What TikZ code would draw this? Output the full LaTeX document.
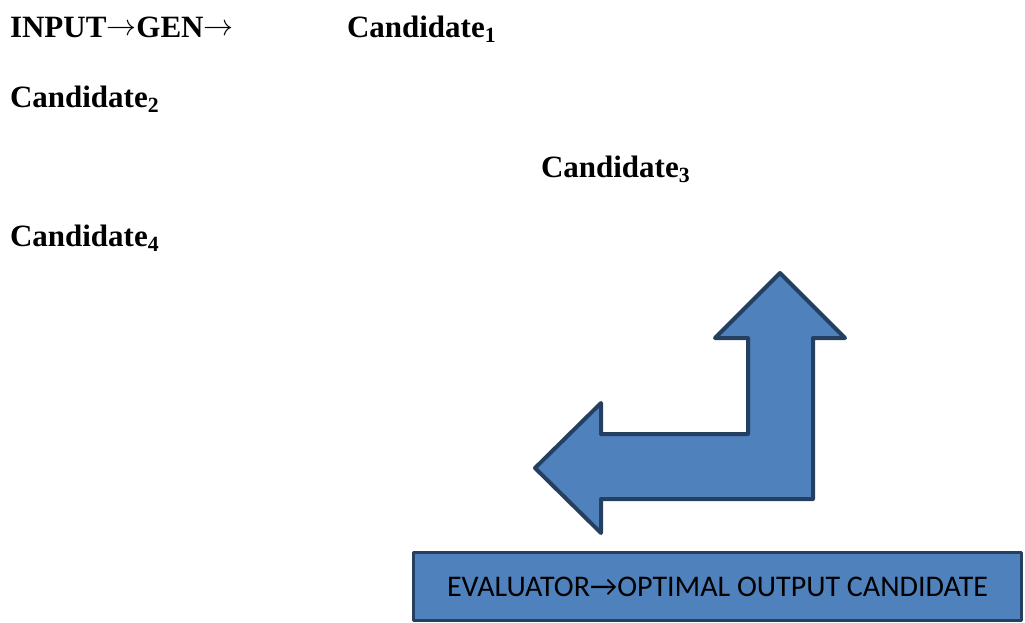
\documentclass[tikz,border=0pt]{standalone}
\usepackage{fontspec}
\setmainfont{Liberation Serif}
\newfontfamily\boxfont{Carlito}
\newcommand*{\candfont}{\fontsize{31}{31}\bfseries\selectfont}
\newcommand*{\rarr}{\raisebox{2pt}{\resizebox{30pt}{!}{$\rightarrow$}}}
\definecolor{B}{HTML}{4F81BD}
\definecolor{D}{HTML}{243F60}
\usetikzlibrary{positioning}
\tikzstyle{base}=[x=1pt, y=-1pt, inner sep=0pt, outer sep=0pt]
\tikzstyle{cand}=[anchor=base west, font=\candfont]
\tikzstyle{bluefill}=[draw=D, fill=B, line width=4pt, line join=round]

\begin{document}
\begin{tikzpicture}[base]
    \path [use as bounding box] (0,0) rectangle (1025,622);
        \node [cand] (gen) at (10,37) {INPUT\rarr GEN\rarr};
        \node [cand] (c1) at (347,37) {Candidate\textsubscript{1}};
        \node [cand] (c2) at (10,107) {Candidate\textsubscript{2}};
        \node [cand] (c3) at (541,177) {Candidate\textsubscript{3}};
        \node [cand] (c4) at (10,246) {Candidate\textsubscript{4}};
        \draw [bluefill] (780,273) -- (845,338) -- (813,338) -- (813,499) -- (601,499) -- (601,533)
            -- (535,468) -- (601,403) -- (601,434) -- (748,434) -- (748,338) -- (715,338) -- cycle;
        \node [bluefill, line width=3pt, minimum width=608pt, minimum height=68pt,
            font=\boxfont\fontsize{30}{30}\selectfont] (eval) at (717.5,586.5)
            {EVALUATOR\textrightarrow OPTIMAL OUTPUT CANDIDATE};
    \end{tikzpicture}
\end{document}
